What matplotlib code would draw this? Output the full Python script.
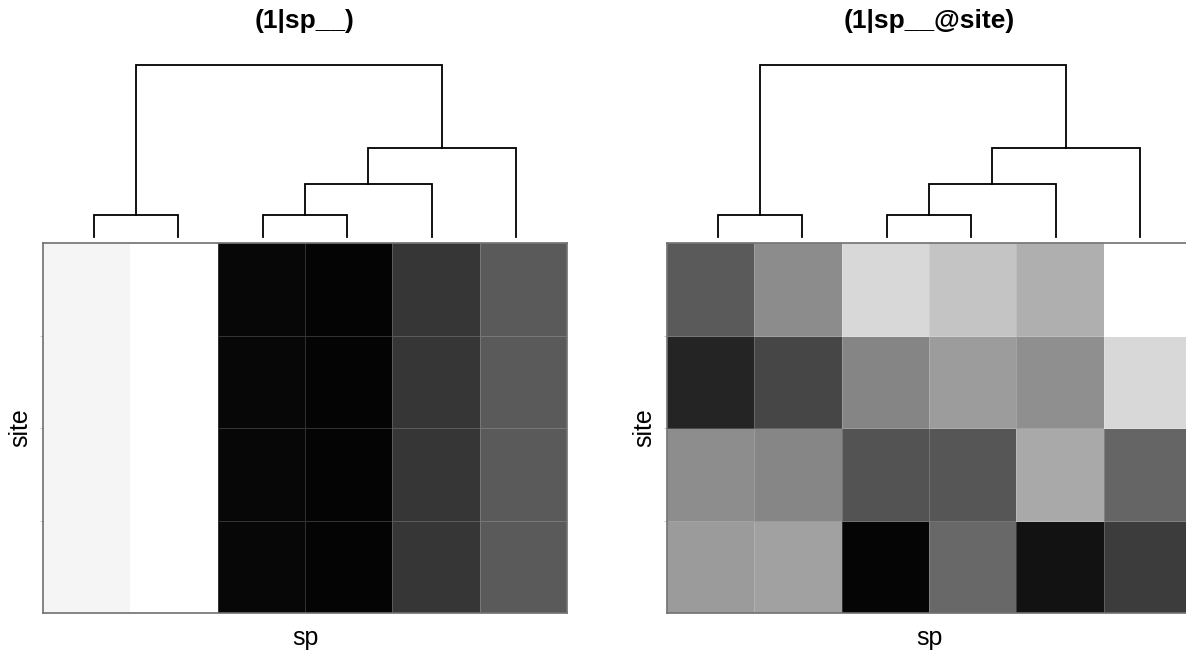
import numpy as np
import matplotlib
matplotlib.use("Agg")
import matplotlib.pyplot as plt

plt.rcParams['font.family'] = ['Liberation Sans', 'DejaVu Sans']

# grey level (0 = black, 255 = white) of each cell, rows top -> bottom, columns = species
sp_values = [
    [245, 255, 7, 4, 54, 90],
    [245, 255, 7, 4, 54, 90],
    [245, 255, 7, 4, 54, 90],
    [245, 255, 7, 4, 54, 90],
]
sp_site_values = [
    [90, 140, 216, 196, 175, 255],
    [36, 70, 133, 156, 143, 216],
    [141, 134, 83, 86, 169, 101],
    [155, 161, 5, 104, 18, 60],
]

# tree over the species: (child a, child b, height); ids >= 6 are earlier merges
sp_merges = [(0, 1, 0.128), (2, 3, 0.128), (7, 4, 0.308), (8, 5, 0.517), (6, 9, 1.0)]
sp_site_merges = [(0, 1, 0.128), (2, 3, 0.128), (7, 4, 0.308), (8, 5, 0.517), (6, 9, 1.0)]

titles = ['(1|sp__)', '(1|sp__@site)']

W, H = 1186, 650
fig = plt.figure(figsize=(W / 100, H / 100), dpi=100)


def draw_tree(ax, merges, n_leaves):
    pos = {i: (float(i), 0.0) for i in range(n_leaves)}
    for k, (a, b, h) in enumerate(merges):
        xa, ha = pos[a]
        xb, hb = pos[b]
        ax.plot([xa, xa, xb, xb], [ha, h, h, hb], color='black', lw=1.3,
                clip_on=False, solid_joinstyle='miter')
        pos[n_leaves + k] = ((xa + xb) / 2, h)


def panel(x0, values, merges, title):
    vals = np.array(values, dtype=float)
    nrow, ncol = vals.shape
    hx, hy, hw, hh = 43, 243, 524, 370
    ax = fig.add_axes([(x0 + hx) / W, 1 - (hy + hh) / H, hw / W, hh / H])
    ax.pcolormesh(np.arange(ncol + 1), np.arange(nrow + 1), vals[::-1],
                  cmap='gray', vmin=0, vmax=255,
                  edgecolors=(1, 1, 1, 0.18), linewidth=0.6)
    ax.set_xlim(0, ncol)
    ax.set_ylim(0, nrow)
    ax.set_xticks([])
    ax.set_yticks(np.arange(1, nrow))
    ax.set_yticklabels([])
    ax.tick_params(axis='y', length=2, color='#bbbbbb', width=0.6)
    for s in ax.spines.values():
        s.set_color('#707070')
        s.set_linewidth(1.2)
    ax.set_xlabel('sp', fontsize=18, labelpad=9)
    ax.set_ylabel('site', fontsize=18, labelpad=2)

    # dendrogram above the columns
    step = 84.4
    lx0 = 94 - step / 2
    dax = fig.add_axes([(x0 + lx0) / W, 1 - 237 / H, step * ncol / W, 172 / H])
    dax.set_xlim(-0.5, ncol - 0.5)
    dax.set_ylim(0, 1)
    dax.axis('off')
    draw_tree(dax, merges, ncol)

    fig.text((x0 + hx + hw / 2) / W, 1 - 21 / H, title, ha='center', va='center',
             fontsize=19, fontweight='bold')


panel(0, sp_values, sp_merges, titles[0])
panel(624, sp_site_values, sp_site_merges, titles[1])

fig.savefig('out.png', dpi=100)
